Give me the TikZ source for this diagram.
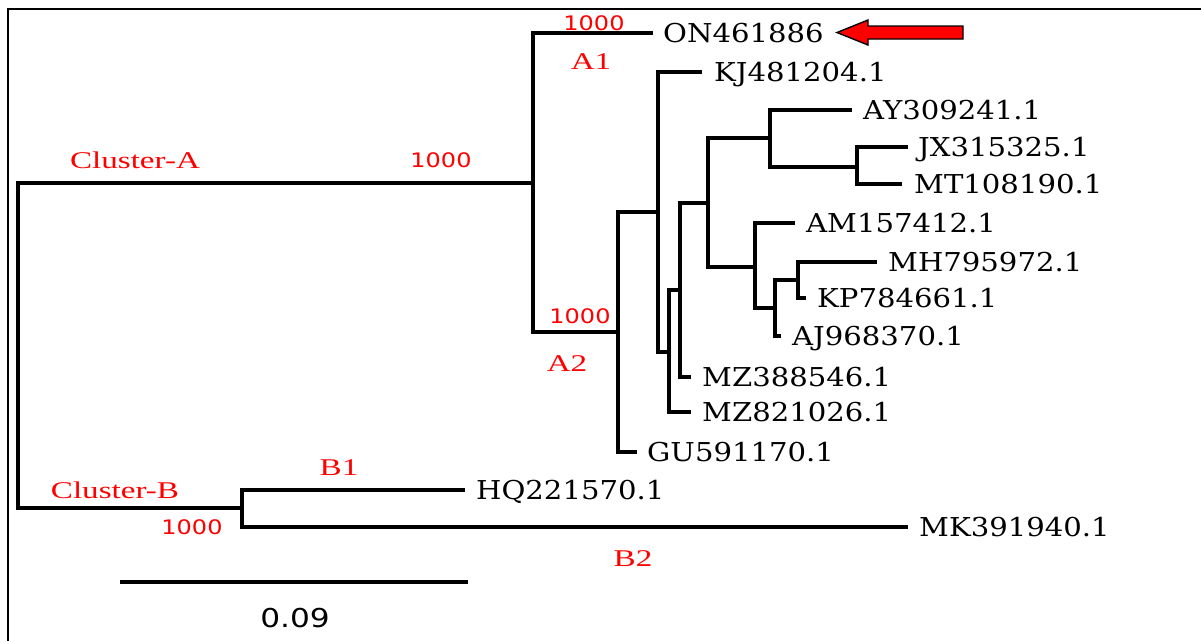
\documentclass[tikz,border=0pt]{standalone}
\usepackage{fontspec}
\usetikzlibrary{calc}
\newfontfamily\taxfont[FakeStretch=1.12]{DejaVu Serif}
\newfontfamily\clustfont[FakeStretch=1.38]{Liberation Serif}
\newfontfamily\bootfont[FakeStretch=1.2]{DejaVu Sans}
\definecolor{boxred}{RGB}{255,0,0}
\begin{document}
\begin{tikzpicture}[x=1pt,y=-1pt,
    branch/.style={line width=3.4pt,line join=miter},
    taxon/.style={anchor=west,inner sep=0pt,text height=19pt,text depth=0pt,
      font=\taxfont\fontsize{26}{26}\selectfont},
    clust/.style={inner sep=0pt,text height=15pt,text depth=0pt,text=boxred,
      font=\clustfont\fontsize{24}{24}\selectfont},
    boot/.style={inner sep=0pt,text height=14pt,text depth=0pt,text=boxred,
      font=\bootfont\fontsize{20}{20}\selectfont}]
    \useasboundingbox (0,0) rectangle (1201,641);
    \fill[white] (0,0) rectangle (1201,641);
    \draw[line width=1.8pt] (8,641)--(8,9)--(1201,9);
    % internal nodes of the tree
    \foreach \nm/\x/\y in {r/18/345,cA/533/183,cB/242/508,n2/618/332,n3/658/212,n4/669/352,
        n5/680/290,n6/708/203,n7/770/138,n8/755/267,n9/857/167,n10/775/308,n11/798/280}{
      \coordinate (\nm) at (\x,\y);
    }
    % leaves: end of branch, label start, name
    \foreach \nm/\x/\y/\lx/\lab in {ON/653/33/663/ON461886,KJ/702/72/714/KJ481204.1,
        AY/852/110/863/AY309241.1,JX/908/147/918/JX315325.1,MT/902/184/914/MT108190.1,
        AM/795/223/806/AM157412.1,MH/877/262/888/MH795972.1,KP/806/298/817/KP784661.1,
        AJ/781/336/792/AJ968370.1,MZa/691/377/702/MZ388546.1,MZb/691/412/702/MZ821026.1,
        GU/637/452/647/GU591170.1,HQ/465/490/476/HQ221570.1,MK/908/527/919/MK391940.1}{
      \coordinate (l\nm) at (\x,\y);
      \node[taxon] (t\nm) at (\lx,\y) {\lab};
    }
    \foreach \p/\c in {r/cA,r/cB,cA/lON,cA/n2,n2/n3,n2/lGU,n3/lKJ,n3/n4,n4/n5,n4/lMZb,
        n5/n6,n5/lMZa,n6/n7,n6/n8,n7/lAY,n7/n9,n9/lJX,n9/lMT,n8/lAM,n8/n10,n10/n11,
        n10/lAJ,n11/lMH,n11/lKP,cB/lHQ,cB/lMK}{
      \draw[branch] (\p) |- (\c);
    }
    % red labels
    \node[clust] (clA) at (135,161) {Cluster-A};
    \node[clust] (clB) at (115,491) {Cluster-B};
    \node[clust] (subA1) at (591,62) {A1};
    \node[clust] (subA2) at (567,364) {A2};
    \node[clust] (subB1) at (339,468) {B1};
    \node[clust] (subB2) at (633,559) {B2};
    \node[boot] (bA) at (441,160) {1000};
    \node[boot] (bA1) at (594,23) {1000};
    \node[boot] (bA2) at (580,316) {1000};
    \node[boot] (bB) at (192,527) {1000};
    % scale bar
    \coordinate (sb1) at (120,582);
    \coordinate (sb2) at (468,582);
    \draw[line width=3.4pt] (sb1)--(sb2);
    \node[inner sep=0pt,text height=19pt,text depth=0pt,font=\bootfont\fontsize{26}{26}\selectfont]
      (sbl) at (295,618) {0.09};
    % marker arrow
    \filldraw[fill=boxred,draw=black,line width=1.4pt,line join=miter]
      (963,26)--(868,26)--(868,20)--(837,32.5)--(868,45)--(868,39)--(963,39)--cycle;
\end{tikzpicture}
\end{document}
